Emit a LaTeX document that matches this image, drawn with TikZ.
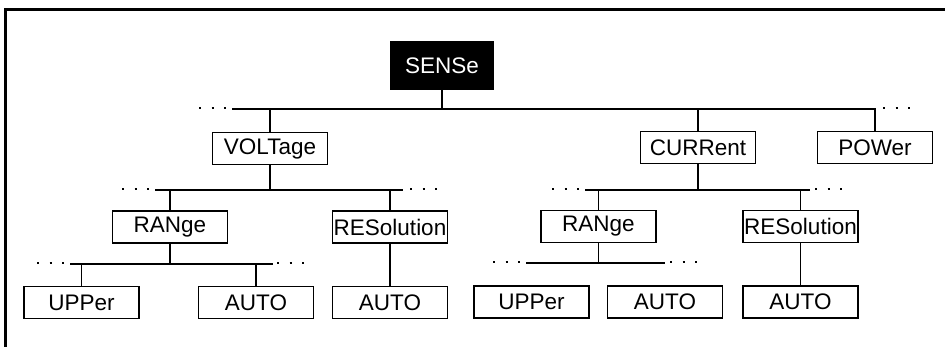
\documentclass[tikz,border=0pt]{standalone}
\usepackage{fontspec}
\setmainfont{Liberation Sans}
\begin{document}
\begin{tikzpicture}[x=1pt,y=-1pt,
  box/.style={draw, line width=1.3pt, minimum width=115pt, minimum height=32pt, inner sep=0pt,
    font=\fontsize{22.5}{26}\selectfont},
  headbox/.style={box, fill=black, text=white, minimum width=102pt, minimum height=47pt},
  conn/.style={line width=1.5pt},
  dotline/.style={line width=2pt, dash pattern=on 2pt off 10.5pt},
  frame/.style={line width=3pt}]
\useasboundingbox (0,0) rectangle (945,347);
% frame (cropped: top and left edges)
\coordinate (fbl) at (5,348);
\coordinate (ftl) at (5,10);
\coordinate (ftr) at (946,10);
\draw[frame] (fbl) -- (ftl) -- (ftr);

% nodes
\node[headbox] (sense) at (442,65.5) {SENSe};
\node[box] (volt) at (270,148.5) {VOLTage};
\node[box] (curr) at (698,147.5) {CURRent};
\node[box] (pow) at (875,147.5) {POWer};
\node[box] (vrange) at (170,227) {RANge};
\node[box] (vres) at (390,227) {RESolution};
\node[box] (vupper) at (81.5,302.5) {UPPer};
\node[box] (vauto) at (256,302.5) {AUTO};
\node[box] (vresauto) at (390,302.5) {AUTO};
\node[box] (crange) at (598.5,226.5) {RANge};
\node[box] (cres) at (800.5,226.5) {RESolution};
\node[box] (cupper) at (531.5,302) {UPPer};
\node[box] (cauto) at (665,302) {AUTO};
\node[box] (cresauto) at (800.5,302) {AUTO};

% bar coordinates
\coordinate (b1l) at (232,109);
\coordinate (b1r) at (875,109);
\coordinate (b2l) at (155,190);
\coordinate (b2r) at (403,190);
\coordinate (b3l) at (70,264);
\coordinate (b3r) at (273,264);
\coordinate (c2l) at (585,190);
\coordinate (c2r) at (810,190);
\coordinate (c3l) at (526,263);
\coordinate (c3r) at (665,263);

% level 1
\draw[conn] (b1l) -- (b1r) -- (pow.north);
\draw[conn] (sense.south) -- (sense.south |- b1l);
\draw[conn] (volt.north) -- (volt.north |- b1l);
\draw[conn] (curr.north) -- (curr.north |- b1l);
\coordinate (d1a) at (199,108); \draw[dotline] (d1a) -- ++(28,0);
\coordinate (d1b) at (883,108); \draw[dotline] (d1b) -- ++(28,0);

% voltage branch
\draw[conn] (b2l) -- (b2r);
\draw[conn] (volt.south) -- (volt.south |- b2l);
\draw[conn] (vrange.north) -- (vrange.north |- b2l);
\draw[conn] (vres.north) -- (vres.north |- b2l);
\coordinate (d2a) at (122,189); \draw[dotline] (d2a) -- ++(28,0);
\coordinate (d2b) at (410,189); \draw[dotline] (d2b) -- ++(28,0);
\draw[conn] (b3l) -- (b3r);
\draw[conn] (vrange.south) -- (vrange.south |- b3l);
\draw[conn] (vupper.north) -- (vupper.north |- b3l);
\draw[conn] (vauto.north) -- (vauto.north |- b3l);
\coordinate (d3a) at (37,263); \draw[dotline] (d3a) -- ++(28,0);
\coordinate (d3b) at (277,263); \draw[dotline] (d3b) -- ++(28,0);
\draw[conn] (vres.south) -- (vresauto.north);

% current branch
\draw[conn] (c2l) -- (c2r);
\draw[conn] (curr.south) -- (curr.south |- c2l);
\draw[conn] (crange.north) -- (crange.north |- c2l);
\draw[conn] (cres.north) -- (cres.north |- c2l);
\coordinate (e2a) at (552,189); \draw[dotline] (e2a) -- ++(28,0);
\coordinate (e2b) at (815,189); \draw[dotline] (e2b) -- ++(28,0);
\draw[conn] (c3l) -- (c3r);
\draw[conn] (crange.south) -- (crange.south |- c3l);
\coordinate (e3a) at (493,262); \draw[dotline] (e3a) -- ++(28,0);
\coordinate (e3b) at (670,262); \draw[dotline] (e3b) -- ++(28,0);
\draw[conn] (cres.south) -- (cresauto.north);
\end{tikzpicture}
\end{document}
